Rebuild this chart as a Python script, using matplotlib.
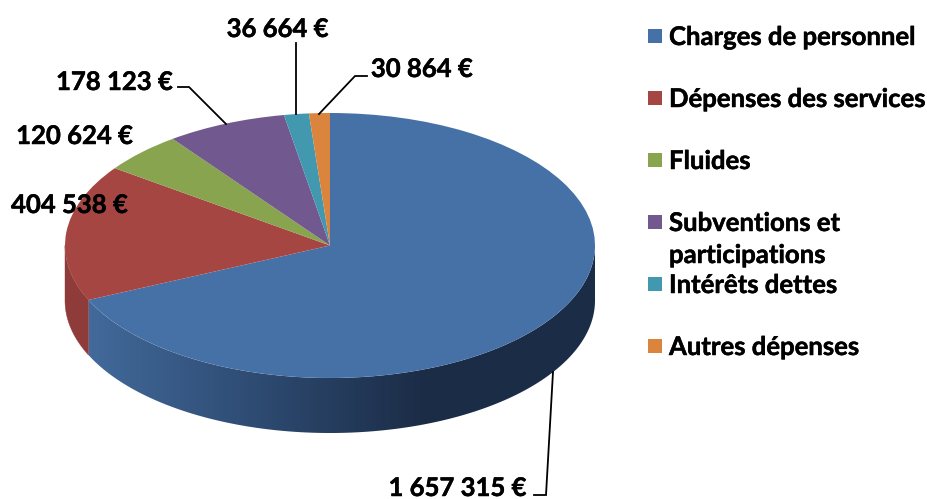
import numpy as np
import matplotlib
matplotlib.use("Agg")
import matplotlib.pyplot as plt
import matplotlib.patheffects as pe
from matplotlib.patches import Rectangle, Polygon
from matplotlib.colors import LinearSegmentedColormap

categories = ["Charges de personnel", "Dépenses des services", "Fluides",
              "Subventions et\nparticipations", "Intérêts dettes", "Autres dépenses"]
values = [1657315, 404538, 120624, 178123, 36664, 30864]
value_labels = ["1 657 315 €", "404 538 €", "120 624 €", "178 123 €", "36 664 €", "30 864 €"]
colors = ["#4571A7", "#A64643", "#89A44E", "#71588F", "#4298AF", "#DB843D"]
side_colors = ["#1B2C46", "#8F3B39", "#89A44E", "#71588F", "#4298AF", "#DB843D"]

W, H = 928, 499
CX, RX = 330, 265
TOP, BOT = 113, 378
DEPTH = 55
FONT = "Lato"
FS = 18.5
STROKE = [pe.withStroke(linewidth=0.35, foreground="black")]

fig = plt.figure(figsize=(W / 100, H / 100), dpi=100)
over = fig.add_axes([0, 0, 1, 1], zorder=3)
over.set_xlim(0, W); over.set_ylim(H, 0); over.axis("off")
ax = fig.add_axes([(CX - RX) / W, 1 - BOT / H, 2 * RX / W, (BOT - TOP) / H], zorder=2)

wedges, _ = ax.pie(values, colors=colors, startangle=90, counterclock=False, radius=1,
                   wedgeprops=dict(linewidth=0, zorder=2))

# extruded side, built from the wedge angles
d = DEPTH / ((BOT - TOP) / 2)
blue_side = LinearSegmentedColormap.from_list("s", ["#426A9B", "#2E4B72", "#1B2C46", "#1B2C46"])
for i, w in enumerate(wedges):
    lo, hi = max(w.theta1, -180), min(w.theta2, 0)
    if hi <= lo:
        continue
    th = np.radians(np.linspace(lo, hi, 200))
    xs, ys = np.cos(th), np.sin(th)
    pts = np.r_[np.c_[xs, ys], np.c_[xs[::-1], ys[::-1] - d]]
    if i == 0:
        poly = Polygon(pts, closed=True, fc="none", ec="none", transform=ax.transData)
        ax.add_patch(poly)
        im = ax.imshow(np.linspace(0, 1, 256)[None, :], cmap=blue_side, aspect="auto",
                       extent=(-0.92, 1, -1 - d, 0), zorder=1)
        im.set_clip_path(poly)
        im.set_clip_on(True)
    else:
        ax.add_patch(Polygon(pts, closed=True, fc=side_colors[i], ec=side_colors[i], lw=0.3,
                             clip_on=False, zorder=1))
ax.set_aspect("auto"); ax.set_xlim(-1, 1); ax.set_ylim(-1, 1)
for a in ax.get_children():
    if a is not None and hasattr(a, "set_clip_box"):
        a.set_clip_box(fig.bbox)

# value labels (right edge, vertical centre in pixels)
label_pos = [(527, 488), (128, 205), (133, 136), (173, 82), (329, 29), (473, 69)]
for txt, (x, y) in zip(value_labels, label_pos):
    over.text(x, y, txt, ha="right", va="center", family=FONT, weight="bold", fontsize=FS,
              color="black", path_effects=STROKE)

# leader lines
leaders = [[(534, 495), (546, 495), (553, 372)],
           [(178, 87), (189, 87), (226, 124)],
           [(296.5, 43), (296.5, 114)],
           [(367, 76), (355, 76), (319, 114)]]
for pts in leaders:
    p = np.array(pts)
    over.plot(p[:, 0], p[:, 1], color="black", lw=1.3, solid_joinstyle="miter")

# legend
marker_y = [36, 98, 160, 222, 284, 346]
for name, col, y in zip(categories, colors, marker_y):
    over.add_patch(Rectangle((648, y - 7), 14, 14, fc=col, ec="none"))
    if "\n" in name:
        first, second = name.split("\n")
        over.text(669, y + 1, first, ha="left", va="center", family=FONT, weight="bold",
                  fontsize=FS, path_effects=STROKE)
        over.text(669, y + 33, second, ha="left", va="center", family=FONT, weight="bold",
                  fontsize=FS, path_effects=STROKE)
    else:
        over.text(669, y + 1, name, ha="left", va="center", family=FONT, weight="bold",
                  fontsize=FS, path_effects=STROKE)

fig.savefig("out.png", dpi=100, facecolor="white")
